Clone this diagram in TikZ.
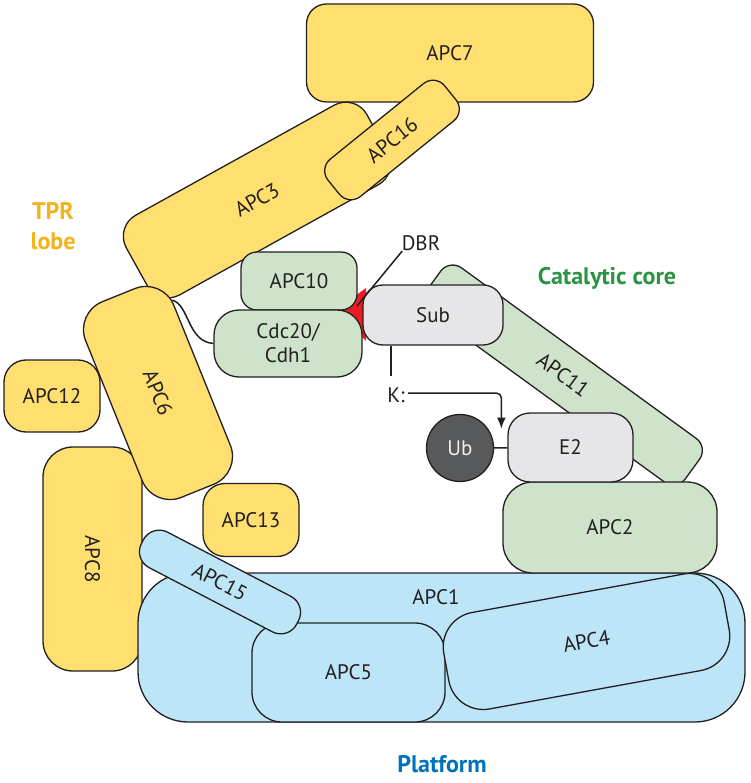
\documentclass[tikz,border=0pt]{standalone}
\usepackage{fontspec}
\setmainfont{PT Sans}
\usetikzlibrary{arrows.meta, calc}

\definecolor{tprfill}{HTML}{FEDF6F}
\definecolor{corefill}{HTML}{CFE3CB}
\definecolor{platfill}{HTML}{BDE5F8}
\definecolor{subfill}{HTML}{E6E6E8}
\definecolor{ubfill}{HTML}{58595B}
\definecolor{dbrred}{HTML}{ED1C24}
\definecolor{tprtext}{HTML}{F2B31C}
\definecolor{coretext}{HTML}{2A9443}
\definecolor{plattext}{HTML}{0072BC}
\definecolor{outl}{HTML}{231F20}

\begin{document}
\begin{tikzpicture}[x=1pt, y=-1pt,
    every node/.style={font=\fontsize{21}{24}\selectfont, text=outl},
    prot/.style={draw=outl, line width=1.3pt, inner sep=0pt},
    tpr/.style={prot, fill=tprfill},
    core/.style={prot, fill=corefill},
    plat/.style={prot, fill=platfill},
    subst/.style={prot, fill=subfill},
    link/.style={outl, line width=1.5pt},
    region/.style={font=\fontsize{24}{30}\selectfont\bfseries, align=center}]

    \useasboundingbox (0,0) rectangle (750,783);

    % TPR lobe
    \node[tpr, minimum width=287pt, minimum height=98pt, rounded corners=20pt] (apc7) at (450,53) {APC7};
    \node[tpr, minimum width=275pt, minimum height=91pt, rounded corners=24pt, rotate=29] (apc3) at (257,200) {APC3};
    \node[tpr, minimum width=150pt, minimum height=48pt, rounded corners=15pt, rotate=39] (apc16) at (392,140) {APC16};
    \node[tpr, minimum width=96pt, minimum height=72pt, rounded corners=22pt] (apc12) at (52,396) {APC12};
    \node[tpr, minimum width=224pt, minimum height=99pt, rounded corners=30pt, rotate=-90] (apc8) at (92.5,559) {APC8};
    \node[tpr, minimum width=96pt, minimum height=73pt, rounded corners=22pt] (apc13) at (251,520) {APC13};
    \node[tpr, minimum width=211pt, minimum height=95pt, rounded corners=30pt, rotate=-68] (apc6) at (158,393) {APC6};

    % Platform
    \node[plat, minimum width=607pt, minimum height=149pt, rounded corners=50pt] (apc1) at (441.5,647.5) {};
    \node (apc1lab) at (436,597) {APC1};
    \node[plat, minimum width=193pt, minimum height=99pt, rounded corners=30pt] (apc5) at (348.5,672.5) {APC5};
    \node[plat, minimum width=285pt, minimum height=98pt, rounded corners=35pt, rotate=10.3] (apc4) at (586.5,641.5) {APC4};
    \node[plat, minimum width=175pt, minimum height=40pt, rounded corners=18pt, rotate=-27.5] (apc15) at (220,582) {APC15};

    % Catalytic core
    \fill[dbrred] (336,310) -- (366,288) -- (366,341) -- cycle;
    \node[core, minimum width=320pt, minimum height=54pt, rounded corners=15pt, rotate=-36] (apc11) at (563,375) {APC11};
    \node[core, minimum width=214pt, minimum height=91pt, rounded corners=30pt] (apc2) at (610,527.5) {APC2};
    \node[subst, minimum width=125pt, minimum height=69pt, rounded corners=22pt] (e2) at (570.5,447.5) {E2};
    \node[prot, circle, fill=ubfill, text=white!94!black, minimum size=67pt] (ub) at (460,448) {Ub};
    \node[subst, minimum width=140pt, minimum height=60pt, rounded corners=20pt] (sub) at (433,315) {Sub};
    \node[core, minimum width=116pt, minimum height=58pt, rounded corners=16pt] (apc10) at (299,281) {APC10};
    \node[core, minimum width=148pt, minimum height=67pt, rounded corners=25pt, align=center] (cdc) at (288,343.5) {Cdc20/\\Cdh1};

    % Labels
    \node[region, text=tprtext] (tprlab) at (53,226) {TPR\\lobe};
    \node[region, text=coretext] (corelab) at (607,278) {Catalytic core};
    \node[region, text=plattext, inner sep=1pt, anchor=base] (platlab) at (442,772) {Platform};
    \node (dbrlab) at (421,243) {DBR};
    \node (klab) at (396,395) {K:};

    % Connectors
    \coordinate (dbrtip) at (357,306);
    \coordinate (ktip) at ([xshift=-6pt, yshift=19pt]e2.west);
    \draw[link] ([xshift=4pt, yshift=3pt]dbrlab.south west) -- (dbrtip);
    \draw[link] ([xshift=-5pt, yshift=8pt]klab.north) -- ([xshift=-5pt]klab.north |- sub.south);
    \draw[link, -{Latex[length=11pt, width=9pt]}, rounded corners=5pt] ([yshift=2pt]klab.east) -| (ktip);
    \draw[link] (ub) -- (e2);
    \draw[link] ($(apc6.north)!0.76!(apc6.north west)$) .. controls +(17,5) and +(-26,-2) .. (cdc.west);
\end{tikzpicture}
\end{document}
